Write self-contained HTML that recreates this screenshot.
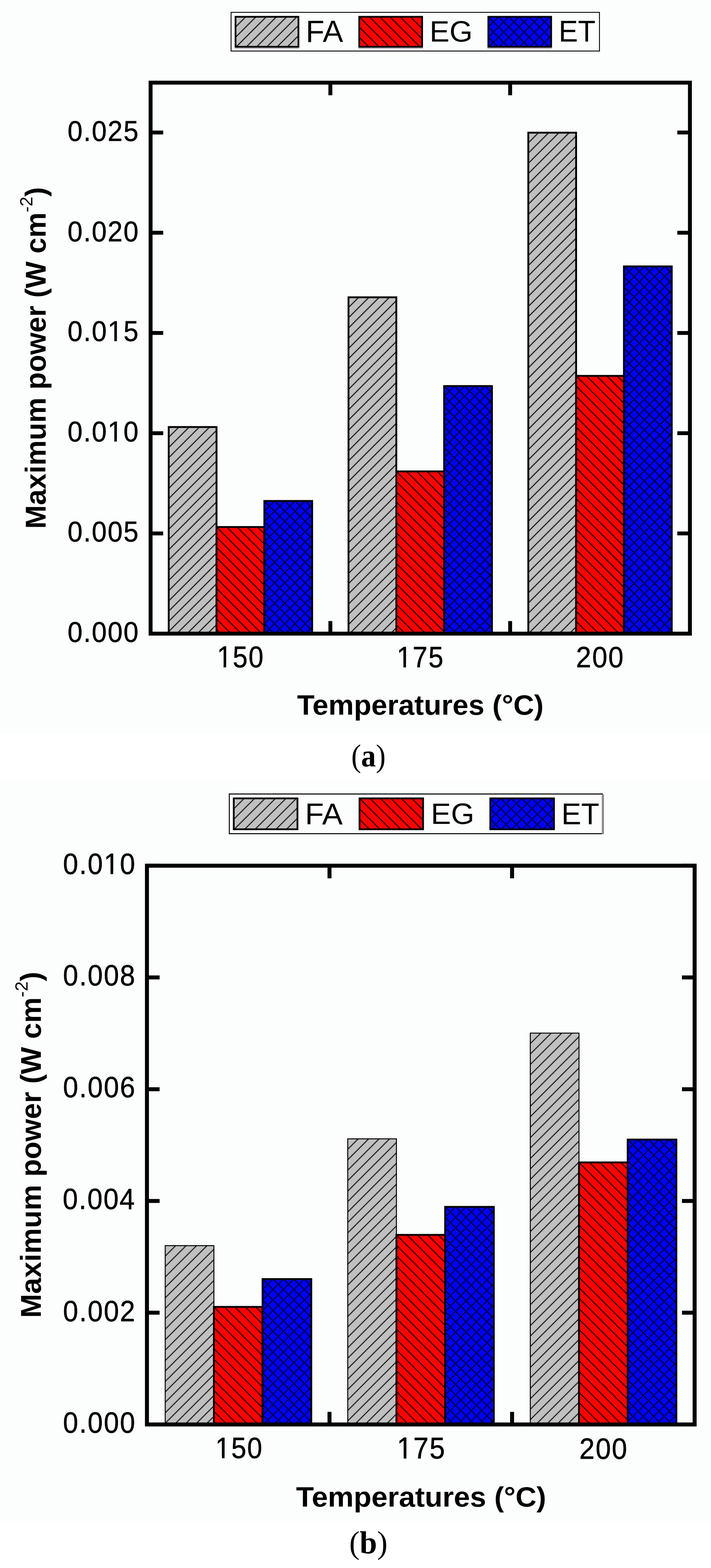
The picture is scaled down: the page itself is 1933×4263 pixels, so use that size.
<!DOCTYPE html><html><head><meta charset="utf-8"><title>Maximum power vs temperature</title><style>html,body{margin:0;padding:0;background:#fff;width:1933px;height:4263px;overflow:hidden}svg{display:block}</style></head><body><svg width="1933" height="4263" viewBox="0 0 1933 4263"><defs><pattern id="paL0" patternUnits="userSpaceOnUse" width="19.658" height="19.658" patternTransform="translate(640.35,45.65) rotate(-45)"><rect width="19.658" height="19.658" fill="#c0c0c0"/><path d="M-2.121,0.000L0.000,-2.121L2.121,0.000L0.000,2.121ZM-2.121,19.658L0.000,17.536L2.121,19.658L0.000,21.779ZM1.810,0.000L3.932,-2.121L6.053,0.000L3.932,2.121ZM1.810,19.658L3.932,17.536L6.053,19.658L3.932,21.779ZM5.742,0.000L7.863,-2.121L9.984,0.000L7.863,2.121ZM5.742,19.658L7.863,17.536L9.984,19.658L7.863,21.779ZM9.673,0.000L11.795,-2.121L13.916,0.000L11.795,2.121ZM9.673,19.658L11.795,17.536L13.916,19.658L11.795,21.779ZM13.605,0.000L15.726,-2.121L17.847,0.000L15.726,2.121ZM13.605,19.658L15.726,17.536L17.847,19.658L15.726,21.779ZM17.536,0.000L19.658,-2.121L21.779,0.000L19.658,2.121ZM17.536,19.658L19.658,17.536L21.779,19.658L19.658,21.779Z" fill="#000"/></pattern><pattern id="paL1" patternUnits="userSpaceOnUse" width="19.658" height="19.658" patternTransform="translate(976.65,45.65) rotate(45)"><rect width="19.658" height="19.658" fill="#ff0000"/><path d="M-2.121,0.000L0.000,-2.121L2.121,0.000L0.000,2.121ZM-2.121,19.658L0.000,17.536L2.121,19.658L0.000,21.779ZM1.810,0.000L3.932,-2.121L6.053,0.000L3.932,2.121ZM1.810,19.658L3.932,17.536L6.053,19.658L3.932,21.779ZM5.742,0.000L7.863,-2.121L9.984,0.000L7.863,2.121ZM5.742,19.658L7.863,17.536L9.984,19.658L7.863,21.779ZM9.673,0.000L11.795,-2.121L13.916,0.000L11.795,2.121ZM9.673,19.658L11.795,17.536L13.916,19.658L11.795,21.779ZM13.605,0.000L15.726,-2.121L17.847,0.000L15.726,2.121ZM13.605,19.658L15.726,17.536L17.847,19.658L15.726,21.779ZM17.536,0.000L19.658,-2.121L21.779,0.000L19.658,2.121ZM17.536,19.658L19.658,17.536L21.779,19.658L19.658,21.779Z" fill="#000"/></pattern><pattern id="paL2" patternUnits="userSpaceOnUse" width="19.658" height="19.658" patternTransform="translate(1327.65,45.65) rotate(45)"><rect width="19.658" height="19.658" fill="#0000ff"/><path d="M-2.121,0.000L0.000,-2.121L2.121,0.000L0.000,2.121ZM-2.121,19.658L0.000,17.536L2.121,19.658L0.000,21.779ZM-2.121,0.000L0.000,-2.121L2.121,0.000L0.000,2.121ZM17.536,0.000L19.658,-2.121L21.779,0.000L19.658,2.121ZM1.810,0.000L3.932,-2.121L6.053,0.000L3.932,2.121ZM1.810,19.658L3.932,17.536L6.053,19.658L3.932,21.779ZM-2.121,3.932L0.000,1.810L2.121,3.932L0.000,6.053ZM17.536,3.932L19.658,1.810L21.779,3.932L19.658,6.053ZM5.742,0.000L7.863,-2.121L9.984,0.000L7.863,2.121ZM5.742,19.658L7.863,17.536L9.984,19.658L7.863,21.779ZM-2.121,7.863L0.000,5.742L2.121,7.863L0.000,9.984ZM17.536,7.863L19.658,5.742L21.779,7.863L19.658,9.984ZM9.673,0.000L11.795,-2.121L13.916,0.000L11.795,2.121ZM9.673,19.658L11.795,17.536L13.916,19.658L11.795,21.779ZM-2.121,11.795L0.000,9.673L2.121,11.795L0.000,13.916ZM17.536,11.795L19.658,9.673L21.779,11.795L19.658,13.916ZM13.605,0.000L15.726,-2.121L17.847,0.000L15.726,2.121ZM13.605,19.658L15.726,17.536L17.847,19.658L15.726,21.779ZM-2.121,15.726L0.000,13.605L2.121,15.726L0.000,17.847ZM17.536,15.726L19.658,13.605L21.779,15.726L19.658,17.847ZM17.536,0.000L19.658,-2.121L21.779,0.000L19.658,2.121ZM17.536,19.658L19.658,17.536L21.779,19.658L19.658,21.779ZM-2.121,19.658L0.000,17.536L2.121,19.658L0.000,21.779ZM17.536,19.658L19.658,17.536L21.779,19.658L19.658,21.779Z" fill="#000"/></pattern><pattern id="paB00" patternUnits="userSpaceOnUse" width="19.658" height="19.658" patternTransform="translate(458.70,1161.00) rotate(-45)"><rect width="19.658" height="19.658" fill="#c0c0c0"/><path d="M-2.121,0.000L0.000,-2.121L2.121,0.000L0.000,2.121ZM-2.121,19.658L0.000,17.536L2.121,19.658L0.000,21.779ZM1.810,0.000L3.932,-2.121L6.053,0.000L3.932,2.121ZM1.810,19.658L3.932,17.536L6.053,19.658L3.932,21.779ZM5.742,0.000L7.863,-2.121L9.984,0.000L7.863,2.121ZM5.742,19.658L7.863,17.536L9.984,19.658L7.863,21.779ZM9.673,0.000L11.795,-2.121L13.916,0.000L11.795,2.121ZM9.673,19.658L11.795,17.536L13.916,19.658L11.795,21.779ZM13.605,0.000L15.726,-2.121L17.847,0.000L15.726,2.121ZM13.605,19.658L15.726,17.536L17.847,19.658L15.726,21.779ZM17.536,0.000L19.658,-2.121L21.779,0.000L19.658,2.121ZM17.536,19.658L19.658,17.536L21.779,19.658L19.658,21.779Z" fill="#000"/></pattern><pattern id="paB01" patternUnits="userSpaceOnUse" width="19.658" height="19.658" patternTransform="translate(588.70,1432.80) rotate(45)"><rect width="19.658" height="19.658" fill="#ff0000"/><path d="M-2.121,0.000L0.000,-2.121L2.121,0.000L0.000,2.121ZM-2.121,19.658L0.000,17.536L2.121,19.658L0.000,21.779ZM1.810,0.000L3.932,-2.121L6.053,0.000L3.932,2.121ZM1.810,19.658L3.932,17.536L6.053,19.658L3.932,21.779ZM5.742,0.000L7.863,-2.121L9.984,0.000L7.863,2.121ZM5.742,19.658L7.863,17.536L9.984,19.658L7.863,21.779ZM9.673,0.000L11.795,-2.121L13.916,0.000L11.795,2.121ZM9.673,19.658L11.795,17.536L13.916,19.658L11.795,21.779ZM13.605,0.000L15.726,-2.121L17.847,0.000L15.726,2.121ZM13.605,19.658L15.726,17.536L17.847,19.658L15.726,21.779ZM17.536,0.000L19.658,-2.121L21.779,0.000L19.658,2.121ZM17.536,19.658L19.658,17.536L21.779,19.658L19.658,21.779Z" fill="#000"/></pattern><pattern id="paB02" patternUnits="userSpaceOnUse" width="19.658" height="19.658" patternTransform="translate(718.70,1362.00) rotate(45)"><rect width="19.658" height="19.658" fill="#0000ff"/><path d="M-2.121,0.000L0.000,-2.121L2.121,0.000L0.000,2.121ZM-2.121,19.658L0.000,17.536L2.121,19.658L0.000,21.779ZM-2.121,0.000L0.000,-2.121L2.121,0.000L0.000,2.121ZM17.536,0.000L19.658,-2.121L21.779,0.000L19.658,2.121ZM1.810,0.000L3.932,-2.121L6.053,0.000L3.932,2.121ZM1.810,19.658L3.932,17.536L6.053,19.658L3.932,21.779ZM-2.121,3.932L0.000,1.810L2.121,3.932L0.000,6.053ZM17.536,3.932L19.658,1.810L21.779,3.932L19.658,6.053ZM5.742,0.000L7.863,-2.121L9.984,0.000L7.863,2.121ZM5.742,19.658L7.863,17.536L9.984,19.658L7.863,21.779ZM-2.121,7.863L0.000,5.742L2.121,7.863L0.000,9.984ZM17.536,7.863L19.658,5.742L21.779,7.863L19.658,9.984ZM9.673,0.000L11.795,-2.121L13.916,0.000L11.795,2.121ZM9.673,19.658L11.795,17.536L13.916,19.658L11.795,21.779ZM-2.121,11.795L0.000,9.673L2.121,11.795L0.000,13.916ZM17.536,11.795L19.658,9.673L21.779,11.795L19.658,13.916ZM13.605,0.000L15.726,-2.121L17.847,0.000L15.726,2.121ZM13.605,19.658L15.726,17.536L17.847,19.658L15.726,21.779ZM-2.121,15.726L0.000,13.605L2.121,15.726L0.000,17.847ZM17.536,15.726L19.658,13.605L21.779,15.726L19.658,17.847ZM17.536,0.000L19.658,-2.121L21.779,0.000L19.658,2.121ZM17.536,19.658L19.658,17.536L21.779,19.658L19.658,21.779ZM-2.121,19.658L0.000,17.536L2.121,19.658L0.000,21.779ZM17.536,19.658L19.658,17.536L21.779,19.658L19.658,21.779Z" fill="#000"/></pattern><pattern id="paB10" patternUnits="userSpaceOnUse" width="19.658" height="19.658" patternTransform="translate(947.50,808.30) rotate(-45)"><rect width="19.658" height="19.658" fill="#c0c0c0"/><path d="M-2.121,0.000L0.000,-2.121L2.121,0.000L0.000,2.121ZM-2.121,19.658L0.000,17.536L2.121,19.658L0.000,21.779ZM1.810,0.000L3.932,-2.121L6.053,0.000L3.932,2.121ZM1.810,19.658L3.932,17.536L6.053,19.658L3.932,21.779ZM5.742,0.000L7.863,-2.121L9.984,0.000L7.863,2.121ZM5.742,19.658L7.863,17.536L9.984,19.658L7.863,21.779ZM9.673,0.000L11.795,-2.121L13.916,0.000L11.795,2.121ZM9.673,19.658L11.795,17.536L13.916,19.658L11.795,21.779ZM13.605,0.000L15.726,-2.121L17.847,0.000L15.726,2.121ZM13.605,19.658L15.726,17.536L17.847,19.658L15.726,21.779ZM17.536,0.000L19.658,-2.121L21.779,0.000L19.658,2.121ZM17.536,19.658L19.658,17.536L21.779,19.658L19.658,21.779Z" fill="#000"/></pattern><pattern id="paB11" patternUnits="userSpaceOnUse" width="19.658" height="19.658" patternTransform="translate(1077.50,1281.60) rotate(45)"><rect width="19.658" height="19.658" fill="#ff0000"/><path d="M-2.121,0.000L0.000,-2.121L2.121,0.000L0.000,2.121ZM-2.121,19.658L0.000,17.536L2.121,19.658L0.000,21.779ZM1.810,0.000L3.932,-2.121L6.053,0.000L3.932,2.121ZM1.810,19.658L3.932,17.536L6.053,19.658L3.932,21.779ZM5.742,0.000L7.863,-2.121L9.984,0.000L7.863,2.121ZM5.742,19.658L7.863,17.536L9.984,19.658L7.863,21.779ZM9.673,0.000L11.795,-2.121L13.916,0.000L11.795,2.121ZM9.673,19.658L11.795,17.536L13.916,19.658L11.795,21.779ZM13.605,0.000L15.726,-2.121L17.847,0.000L15.726,2.121ZM13.605,19.658L15.726,17.536L17.847,19.658L15.726,21.779ZM17.536,0.000L19.658,-2.121L21.779,0.000L19.658,2.121ZM17.536,19.658L19.658,17.536L21.779,19.658L19.658,21.779Z" fill="#000"/></pattern><pattern id="paB12" patternUnits="userSpaceOnUse" width="19.658" height="19.658" patternTransform="translate(1207.50,1049.60) rotate(45)"><rect width="19.658" height="19.658" fill="#0000ff"/><path d="M-2.121,0.000L0.000,-2.121L2.121,0.000L0.000,2.121ZM-2.121,19.658L0.000,17.536L2.121,19.658L0.000,21.779ZM-2.121,0.000L0.000,-2.121L2.121,0.000L0.000,2.121ZM17.536,0.000L19.658,-2.121L21.779,0.000L19.658,2.121ZM1.810,0.000L3.932,-2.121L6.053,0.000L3.932,2.121ZM1.810,19.658L3.932,17.536L6.053,19.658L3.932,21.779ZM-2.121,3.932L0.000,1.810L2.121,3.932L0.000,6.053ZM17.536,3.932L19.658,1.810L21.779,3.932L19.658,6.053ZM5.742,0.000L7.863,-2.121L9.984,0.000L7.863,2.121ZM5.742,19.658L7.863,17.536L9.984,19.658L7.863,21.779ZM-2.121,7.863L0.000,5.742L2.121,7.863L0.000,9.984ZM17.536,7.863L19.658,5.742L21.779,7.863L19.658,9.984ZM9.673,0.000L11.795,-2.121L13.916,0.000L11.795,2.121ZM9.673,19.658L11.795,17.536L13.916,19.658L11.795,21.779ZM-2.121,11.795L0.000,9.673L2.121,11.795L0.000,13.916ZM17.536,11.795L19.658,9.673L21.779,11.795L19.658,13.916ZM13.605,0.000L15.726,-2.121L17.847,0.000L15.726,2.121ZM13.605,19.658L15.726,17.536L17.847,19.658L15.726,21.779ZM-2.121,15.726L0.000,13.605L2.121,15.726L0.000,17.847ZM17.536,15.726L19.658,13.605L21.779,15.726L19.658,17.847ZM17.536,0.000L19.658,-2.121L21.779,0.000L19.658,2.121ZM17.536,19.658L19.658,17.536L21.779,19.658L19.658,21.779ZM-2.121,19.658L0.000,17.536L2.121,19.658L0.000,21.779ZM17.536,19.658L19.658,17.536L21.779,19.658L19.658,21.779Z" fill="#000"/></pattern><pattern id="paB20" patternUnits="userSpaceOnUse" width="19.658" height="19.658" patternTransform="translate(1436.30,360.70) rotate(-45)"><rect width="19.658" height="19.658" fill="#c0c0c0"/><path d="M-2.121,0.000L0.000,-2.121L2.121,0.000L0.000,2.121ZM-2.121,19.658L0.000,17.536L2.121,19.658L0.000,21.779ZM1.810,0.000L3.932,-2.121L6.053,0.000L3.932,2.121ZM1.810,19.658L3.932,17.536L6.053,19.658L3.932,21.779ZM5.742,0.000L7.863,-2.121L9.984,0.000L7.863,2.121ZM5.742,19.658L7.863,17.536L9.984,19.658L7.863,21.779ZM9.673,0.000L11.795,-2.121L13.916,0.000L11.795,2.121ZM9.673,19.658L11.795,17.536L13.916,19.658L11.795,21.779ZM13.605,0.000L15.726,-2.121L17.847,0.000L15.726,2.121ZM13.605,19.658L15.726,17.536L17.847,19.658L15.726,21.779ZM17.536,0.000L19.658,-2.121L21.779,0.000L19.658,2.121ZM17.536,19.658L19.658,17.536L21.779,19.658L19.658,21.779Z" fill="#000"/></pattern><pattern id="paB21" patternUnits="userSpaceOnUse" width="19.658" height="19.658" patternTransform="translate(1566.30,1021.90) rotate(45)"><rect width="19.658" height="19.658" fill="#ff0000"/><path d="M-2.121,0.000L0.000,-2.121L2.121,0.000L0.000,2.121ZM-2.121,19.658L0.000,17.536L2.121,19.658L0.000,21.779ZM1.810,0.000L3.932,-2.121L6.053,0.000L3.932,2.121ZM1.810,19.658L3.932,17.536L6.053,19.658L3.932,21.779ZM5.742,0.000L7.863,-2.121L9.984,0.000L7.863,2.121ZM5.742,19.658L7.863,17.536L9.984,19.658L7.863,21.779ZM9.673,0.000L11.795,-2.121L13.916,0.000L11.795,2.121ZM9.673,19.658L11.795,17.536L13.916,19.658L11.795,21.779ZM13.605,0.000L15.726,-2.121L17.847,0.000L15.726,2.121ZM13.605,19.658L15.726,17.536L17.847,19.658L15.726,21.779ZM17.536,0.000L19.658,-2.121L21.779,0.000L19.658,2.121ZM17.536,19.658L19.658,17.536L21.779,19.658L19.658,21.779Z" fill="#000"/></pattern><pattern id="paB22" patternUnits="userSpaceOnUse" width="19.658" height="19.658" patternTransform="translate(1696.30,724.30) rotate(45)"><rect width="19.658" height="19.658" fill="#0000ff"/><path d="M-2.121,0.000L0.000,-2.121L2.121,0.000L0.000,2.121ZM-2.121,19.658L0.000,17.536L2.121,19.658L0.000,21.779ZM-2.121,0.000L0.000,-2.121L2.121,0.000L0.000,2.121ZM17.536,0.000L19.658,-2.121L21.779,0.000L19.658,2.121ZM1.810,0.000L3.932,-2.121L6.053,0.000L3.932,2.121ZM1.810,19.658L3.932,17.536L6.053,19.658L3.932,21.779ZM-2.121,3.932L0.000,1.810L2.121,3.932L0.000,6.053ZM17.536,3.932L19.658,1.810L21.779,3.932L19.658,6.053ZM5.742,0.000L7.863,-2.121L9.984,0.000L7.863,2.121ZM5.742,19.658L7.863,17.536L9.984,19.658L7.863,21.779ZM-2.121,7.863L0.000,5.742L2.121,7.863L0.000,9.984ZM17.536,7.863L19.658,5.742L21.779,7.863L19.658,9.984ZM9.673,0.000L11.795,-2.121L13.916,0.000L11.795,2.121ZM9.673,19.658L11.795,17.536L13.916,19.658L11.795,21.779ZM-2.121,11.795L0.000,9.673L2.121,11.795L0.000,13.916ZM17.536,11.795L19.658,9.673L21.779,11.795L19.658,13.916ZM13.605,0.000L15.726,-2.121L17.847,0.000L15.726,2.121ZM13.605,19.658L15.726,17.536L17.847,19.658L15.726,21.779ZM-2.121,15.726L0.000,13.605L2.121,15.726L0.000,17.847ZM17.536,15.726L19.658,13.605L21.779,15.726L19.658,17.847ZM17.536,0.000L19.658,-2.121L21.779,0.000L19.658,2.121ZM17.536,19.658L19.658,17.536L21.779,19.658L19.658,21.779ZM-2.121,19.658L0.000,17.536L2.121,19.658L0.000,21.779ZM17.536,19.658L19.658,17.536L21.779,19.658L19.658,21.779Z" fill="#000"/></pattern><pattern id="pbL0" patternUnits="userSpaceOnUse" width="20.082" height="20.082" patternTransform="translate(635.50,2170.60) rotate(-45)"><rect width="20.082" height="20.082" fill="#c0c0c0"/><path d="M-2.121,0.000L0.000,-2.121L2.121,0.000L0.000,2.121ZM-2.121,20.082L0.000,17.961L2.121,20.082L0.000,22.203ZM1.895,0.000L4.016,-2.121L6.138,0.000L4.016,2.121ZM1.895,20.082L4.016,17.961L6.138,20.082L4.016,22.203ZM5.911,0.000L8.033,-2.121L10.154,0.000L8.033,2.121ZM5.911,20.082L8.033,17.961L10.154,20.082L8.033,22.203ZM9.928,0.000L12.049,-2.121L14.170,0.000L12.049,2.121ZM9.928,20.082L12.049,17.961L14.170,20.082L12.049,22.203ZM13.944,0.000L16.065,-2.121L18.187,0.000L16.065,2.121ZM13.944,20.082L16.065,17.961L18.187,20.082L16.065,22.203ZM17.961,0.000L20.082,-2.121L22.203,0.000L20.082,2.121ZM17.961,20.082L20.082,17.961L22.203,20.082L20.082,22.203Z" fill="#000"/></pattern><pattern id="pbL1" patternUnits="userSpaceOnUse" width="20.082" height="20.082" patternTransform="translate(977.40,2170.60) rotate(45)"><rect width="20.082" height="20.082" fill="#ff0000"/><path d="M-2.121,0.000L0.000,-2.121L2.121,0.000L0.000,2.121ZM-2.121,20.082L0.000,17.961L2.121,20.082L0.000,22.203ZM1.895,0.000L4.016,-2.121L6.138,0.000L4.016,2.121ZM1.895,20.082L4.016,17.961L6.138,20.082L4.016,22.203ZM5.911,0.000L8.033,-2.121L10.154,0.000L8.033,2.121ZM5.911,20.082L8.033,17.961L10.154,20.082L8.033,22.203ZM9.928,0.000L12.049,-2.121L14.170,0.000L12.049,2.121ZM9.928,20.082L12.049,17.961L14.170,20.082L12.049,22.203ZM13.944,0.000L16.065,-2.121L18.187,0.000L16.065,2.121ZM13.944,20.082L16.065,17.961L18.187,20.082L16.065,22.203ZM17.961,0.000L20.082,-2.121L22.203,0.000L20.082,2.121ZM17.961,20.082L20.082,17.961L22.203,20.082L20.082,22.203Z" fill="#000"/></pattern><pattern id="pbL2" patternUnits="userSpaceOnUse" width="20.082" height="20.082" patternTransform="translate(1333.00,2170.60) rotate(45)"><rect width="20.082" height="20.082" fill="#0000ff"/><path d="M-2.121,0.000L0.000,-2.121L2.121,0.000L0.000,2.121ZM-2.121,20.082L0.000,17.961L2.121,20.082L0.000,22.203ZM-2.121,0.000L0.000,-2.121L2.121,0.000L0.000,2.121ZM17.961,0.000L20.082,-2.121L22.203,0.000L20.082,2.121ZM1.895,0.000L4.016,-2.121L6.138,0.000L4.016,2.121ZM1.895,20.082L4.016,17.961L6.138,20.082L4.016,22.203ZM-2.121,4.016L0.000,1.895L2.121,4.016L0.000,6.138ZM17.961,4.016L20.082,1.895L22.203,4.016L20.082,6.138ZM5.911,0.000L8.033,-2.121L10.154,0.000L8.033,2.121ZM5.911,20.082L8.033,17.961L10.154,20.082L8.033,22.203ZM-2.121,8.033L0.000,5.911L2.121,8.033L0.000,10.154ZM17.961,8.033L20.082,5.911L22.203,8.033L20.082,10.154ZM9.928,0.000L12.049,-2.121L14.170,0.000L12.049,2.121ZM9.928,20.082L12.049,17.961L14.170,20.082L12.049,22.203ZM-2.121,12.049L0.000,9.928L2.121,12.049L0.000,14.170ZM17.961,12.049L20.082,9.928L22.203,12.049L20.082,14.170ZM13.944,0.000L16.065,-2.121L18.187,0.000L16.065,2.121ZM13.944,20.082L16.065,17.961L18.187,20.082L16.065,22.203ZM-2.121,16.065L0.000,13.944L2.121,16.065L0.000,18.187ZM17.961,16.065L20.082,13.944L22.203,16.065L20.082,18.187ZM17.961,0.000L20.082,-2.121L22.203,0.000L20.082,2.121ZM17.961,20.082L20.082,17.961L22.203,20.082L20.082,22.203ZM-2.121,20.082L0.000,17.961L2.121,20.082L0.000,22.203ZM17.961,20.082L20.082,17.961L22.203,20.082L20.082,22.203Z" fill="#000"/></pattern><pattern id="pbB00" patternUnits="userSpaceOnUse" width="20.082" height="20.082" patternTransform="translate(449.16,3386.60) rotate(-45)"><rect width="20.082" height="20.082" fill="#c0c0c0"/><path d="M-2.121,0.000L0.000,-2.121L2.121,0.000L0.000,2.121ZM-2.121,20.082L0.000,17.961L2.121,20.082L0.000,22.203ZM1.895,0.000L4.016,-2.121L6.138,0.000L4.016,2.121ZM1.895,20.082L4.016,17.961L6.138,20.082L4.016,22.203ZM5.911,0.000L8.033,-2.121L10.154,0.000L8.033,2.121ZM5.911,20.082L8.033,17.961L10.154,20.082L8.033,22.203ZM9.928,0.000L12.049,-2.121L14.170,0.000L12.049,2.121ZM9.928,20.082L12.049,17.961L14.170,20.082L12.049,22.203ZM13.944,0.000L16.065,-2.121L18.187,0.000L16.065,2.121ZM13.944,20.082L16.065,17.961L18.187,20.082L16.065,22.203ZM17.961,0.000L20.082,-2.121L22.203,0.000L20.082,2.121ZM17.961,20.082L20.082,17.961L22.203,20.082L20.082,22.203Z" fill="#000"/></pattern><pattern id="pbB01" patternUnits="userSpaceOnUse" width="20.082" height="20.082" patternTransform="translate(581.52,3553.10) rotate(45)"><rect width="20.082" height="20.082" fill="#ff0000"/><path d="M-2.121,0.000L0.000,-2.121L2.121,0.000L0.000,2.121ZM-2.121,20.082L0.000,17.961L2.121,20.082L0.000,22.203ZM1.895,0.000L4.016,-2.121L6.138,0.000L4.016,2.121ZM1.895,20.082L4.016,17.961L6.138,20.082L4.016,22.203ZM5.911,0.000L8.033,-2.121L10.154,0.000L8.033,2.121ZM5.911,20.082L8.033,17.961L10.154,20.082L8.033,22.203ZM9.928,0.000L12.049,-2.121L14.170,0.000L12.049,2.121ZM9.928,20.082L12.049,17.961L14.170,20.082L12.049,22.203ZM13.944,0.000L16.065,-2.121L18.187,0.000L16.065,2.121ZM13.944,20.082L16.065,17.961L18.187,20.082L16.065,22.203ZM17.961,0.000L20.082,-2.121L22.203,0.000L20.082,2.121ZM17.961,20.082L20.082,17.961L22.203,20.082L20.082,22.203Z" fill="#000"/></pattern><pattern id="pbB02" patternUnits="userSpaceOnUse" width="20.082" height="20.082" patternTransform="translate(713.88,3477.50) rotate(45)"><rect width="20.082" height="20.082" fill="#0000ff"/><path d="M-2.121,0.000L0.000,-2.121L2.121,0.000L0.000,2.121ZM-2.121,20.082L0.000,17.961L2.121,20.082L0.000,22.203ZM-2.121,0.000L0.000,-2.121L2.121,0.000L0.000,2.121ZM17.961,0.000L20.082,-2.121L22.203,0.000L20.082,2.121ZM1.895,0.000L4.016,-2.121L6.138,0.000L4.016,2.121ZM1.895,20.082L4.016,17.961L6.138,20.082L4.016,22.203ZM-2.121,4.016L0.000,1.895L2.121,4.016L0.000,6.138ZM17.961,4.016L20.082,1.895L22.203,4.016L20.082,6.138ZM5.911,0.000L8.033,-2.121L10.154,0.000L8.033,2.121ZM5.911,20.082L8.033,17.961L10.154,20.082L8.033,22.203ZM-2.121,8.033L0.000,5.911L2.121,8.033L0.000,10.154ZM17.961,8.033L20.082,5.911L22.203,8.033L20.082,10.154ZM9.928,0.000L12.049,-2.121L14.170,0.000L12.049,2.121ZM9.928,20.082L12.049,17.961L14.170,20.082L12.049,22.203ZM-2.121,12.049L0.000,9.928L2.121,12.049L0.000,14.170ZM17.961,12.049L20.082,9.928L22.203,12.049L20.082,14.170ZM13.944,0.000L16.065,-2.121L18.187,0.000L16.065,2.121ZM13.944,20.082L16.065,17.961L18.187,20.082L16.065,22.203ZM-2.121,16.065L0.000,13.944L2.121,16.065L0.000,18.187ZM17.961,16.065L20.082,13.944L22.203,16.065L20.082,18.187ZM17.961,0.000L20.082,-2.121L22.203,0.000L20.082,2.121ZM17.961,20.082L20.082,17.961L22.203,20.082L20.082,22.203ZM-2.121,20.082L0.000,17.961L2.121,20.082L0.000,22.203ZM17.961,20.082L20.082,17.961L22.203,20.082L20.082,22.203Z" fill="#000"/></pattern><pattern id="pbB10" patternUnits="userSpaceOnUse" width="20.082" height="20.082" patternTransform="translate(945.46,3096.20) rotate(-45)"><rect width="20.082" height="20.082" fill="#c0c0c0"/><path d="M-2.121,0.000L0.000,-2.121L2.121,0.000L0.000,2.121ZM-2.121,20.082L0.000,17.961L2.121,20.082L0.000,22.203ZM1.895,0.000L4.016,-2.121L6.138,0.000L4.016,2.121ZM1.895,20.082L4.016,17.961L6.138,20.082L4.016,22.203ZM5.911,0.000L8.033,-2.121L10.154,0.000L8.033,2.121ZM5.911,20.082L8.033,17.961L10.154,20.082L8.033,22.203ZM9.928,0.000L12.049,-2.121L14.170,0.000L12.049,2.121ZM9.928,20.082L12.049,17.961L14.170,20.082L12.049,22.203ZM13.944,0.000L16.065,-2.121L18.187,0.000L16.065,2.121ZM13.944,20.082L16.065,17.961L18.187,20.082L16.065,22.203ZM17.961,0.000L20.082,-2.121L22.203,0.000L20.082,2.121ZM17.961,20.082L20.082,17.961L22.203,20.082L20.082,22.203Z" fill="#000"/></pattern><pattern id="pbB11" patternUnits="userSpaceOnUse" width="20.082" height="20.082" patternTransform="translate(1077.82,3357.30) rotate(45)"><rect width="20.082" height="20.082" fill="#ff0000"/><path d="M-2.121,0.000L0.000,-2.121L2.121,0.000L0.000,2.121ZM-2.121,20.082L0.000,17.961L2.121,20.082L0.000,22.203ZM1.895,0.000L4.016,-2.121L6.138,0.000L4.016,2.121ZM1.895,20.082L4.016,17.961L6.138,20.082L4.016,22.203ZM5.911,0.000L8.033,-2.121L10.154,0.000L8.033,2.121ZM5.911,20.082L8.033,17.961L10.154,20.082L8.033,22.203ZM9.928,0.000L12.049,-2.121L14.170,0.000L12.049,2.121ZM9.928,20.082L12.049,17.961L14.170,20.082L12.049,22.203ZM13.944,0.000L16.065,-2.121L18.187,0.000L16.065,2.121ZM13.944,20.082L16.065,17.961L18.187,20.082L16.065,22.203ZM17.961,0.000L20.082,-2.121L22.203,0.000L20.082,2.121ZM17.961,20.082L20.082,17.961L22.203,20.082L20.082,22.203Z" fill="#000"/></pattern><pattern id="pbB12" patternUnits="userSpaceOnUse" width="20.082" height="20.082" patternTransform="translate(1210.18,3281.20) rotate(45)"><rect width="20.082" height="20.082" fill="#0000ff"/><path d="M-2.121,0.000L0.000,-2.121L2.121,0.000L0.000,2.121ZM-2.121,20.082L0.000,17.961L2.121,20.082L0.000,22.203ZM-2.121,0.000L0.000,-2.121L2.121,0.000L0.000,2.121ZM17.961,0.000L20.082,-2.121L22.203,0.000L20.082,2.121ZM1.895,0.000L4.016,-2.121L6.138,0.000L4.016,2.121ZM1.895,20.082L4.016,17.961L6.138,20.082L4.016,22.203ZM-2.121,4.016L0.000,1.895L2.121,4.016L0.000,6.138ZM17.961,4.016L20.082,1.895L22.203,4.016L20.082,6.138ZM5.911,0.000L8.033,-2.121L10.154,0.000L8.033,2.121ZM5.911,20.082L8.033,17.961L10.154,20.082L8.033,22.203ZM-2.121,8.033L0.000,5.911L2.121,8.033L0.000,10.154ZM17.961,8.033L20.082,5.911L22.203,8.033L20.082,10.154ZM9.928,0.000L12.049,-2.121L14.170,0.000L12.049,2.121ZM9.928,20.082L12.049,17.961L14.170,20.082L12.049,22.203ZM-2.121,12.049L0.000,9.928L2.121,12.049L0.000,14.170ZM17.961,12.049L20.082,9.928L22.203,12.049L20.082,14.170ZM13.944,0.000L16.065,-2.121L18.187,0.000L16.065,2.121ZM13.944,20.082L16.065,17.961L18.187,20.082L16.065,22.203ZM-2.121,16.065L0.000,13.944L2.121,16.065L0.000,18.187ZM17.961,16.065L20.082,13.944L22.203,16.065L20.082,18.187ZM17.961,0.000L20.082,-2.121L22.203,0.000L20.082,2.121ZM17.961,20.082L20.082,17.961L22.203,20.082L20.082,22.203ZM-2.121,20.082L0.000,17.961L2.121,20.082L0.000,22.203ZM17.961,20.082L20.082,17.961L22.203,20.082L20.082,22.203Z" fill="#000"/></pattern><pattern id="pbB20" patternUnits="userSpaceOnUse" width="20.082" height="20.082" patternTransform="translate(1441.76,2808.80) rotate(-45)"><rect width="20.082" height="20.082" fill="#c0c0c0"/><path d="M-2.121,0.000L0.000,-2.121L2.121,0.000L0.000,2.121ZM-2.121,20.082L0.000,17.961L2.121,20.082L0.000,22.203ZM1.895,0.000L4.016,-2.121L6.138,0.000L4.016,2.121ZM1.895,20.082L4.016,17.961L6.138,20.082L4.016,22.203ZM5.911,0.000L8.033,-2.121L10.154,0.000L8.033,2.121ZM5.911,20.082L8.033,17.961L10.154,20.082L8.033,22.203ZM9.928,0.000L12.049,-2.121L14.170,0.000L12.049,2.121ZM9.928,20.082L12.049,17.961L14.170,20.082L12.049,22.203ZM13.944,0.000L16.065,-2.121L18.187,0.000L16.065,2.121ZM13.944,20.082L16.065,17.961L18.187,20.082L16.065,22.203ZM17.961,0.000L20.082,-2.121L22.203,0.000L20.082,2.121ZM17.961,20.082L20.082,17.961L22.203,20.082L20.082,22.203Z" fill="#000"/></pattern><pattern id="pbB21" patternUnits="userSpaceOnUse" width="20.082" height="20.082" patternTransform="translate(1574.12,3160.30) rotate(45)"><rect width="20.082" height="20.082" fill="#ff0000"/><path d="M-2.121,0.000L0.000,-2.121L2.121,0.000L0.000,2.121ZM-2.121,20.082L0.000,17.961L2.121,20.082L0.000,22.203ZM1.895,0.000L4.016,-2.121L6.138,0.000L4.016,2.121ZM1.895,20.082L4.016,17.961L6.138,20.082L4.016,22.203ZM5.911,0.000L8.033,-2.121L10.154,0.000L8.033,2.121ZM5.911,20.082L8.033,17.961L10.154,20.082L8.033,22.203ZM9.928,0.000L12.049,-2.121L14.170,0.000L12.049,2.121ZM9.928,20.082L12.049,17.961L14.170,20.082L12.049,22.203ZM13.944,0.000L16.065,-2.121L18.187,0.000L16.065,2.121ZM13.944,20.082L16.065,17.961L18.187,20.082L16.065,22.203ZM17.961,0.000L20.082,-2.121L22.203,0.000L20.082,2.121ZM17.961,20.082L20.082,17.961L22.203,20.082L20.082,22.203Z" fill="#000"/></pattern><pattern id="pbB22" patternUnits="userSpaceOnUse" width="20.082" height="20.082" patternTransform="translate(1706.48,3098.20) rotate(45)"><rect width="20.082" height="20.082" fill="#0000ff"/><path d="M-2.121,0.000L0.000,-2.121L2.121,0.000L0.000,2.121ZM-2.121,20.082L0.000,17.961L2.121,20.082L0.000,22.203ZM-2.121,0.000L0.000,-2.121L2.121,0.000L0.000,2.121ZM17.961,0.000L20.082,-2.121L22.203,0.000L20.082,2.121ZM1.895,0.000L4.016,-2.121L6.138,0.000L4.016,2.121ZM1.895,20.082L4.016,17.961L6.138,20.082L4.016,22.203ZM-2.121,4.016L0.000,1.895L2.121,4.016L0.000,6.138ZM17.961,4.016L20.082,1.895L22.203,4.016L20.082,6.138ZM5.911,0.000L8.033,-2.121L10.154,0.000L8.033,2.121ZM5.911,20.082L8.033,17.961L10.154,20.082L8.033,22.203ZM-2.121,8.033L0.000,5.911L2.121,8.033L0.000,10.154ZM17.961,8.033L20.082,5.911L22.203,8.033L20.082,10.154ZM9.928,0.000L12.049,-2.121L14.170,0.000L12.049,2.121ZM9.928,20.082L12.049,17.961L14.170,20.082L12.049,22.203ZM-2.121,12.049L0.000,9.928L2.121,12.049L0.000,14.170ZM17.961,12.049L20.082,9.928L22.203,12.049L20.082,14.170ZM13.944,0.000L16.065,-2.121L18.187,0.000L16.065,2.121ZM13.944,20.082L16.065,17.961L18.187,20.082L16.065,22.203ZM-2.121,16.065L0.000,13.944L2.121,16.065L0.000,18.187ZM17.961,16.065L20.082,13.944L22.203,16.065L20.082,18.187ZM17.961,0.000L20.082,-2.121L22.203,0.000L20.082,2.121ZM17.961,20.082L20.082,17.961L22.203,20.082L20.082,22.203ZM-2.121,20.082L0.000,17.961L2.121,20.082L0.000,22.203ZM17.961,20.082L20.082,17.961L22.203,20.082L20.082,22.203Z" fill="#000"/></pattern></defs><rect width="1933" height="4263" fill="#fff"/><rect width="1933" height="1995" fill="#fcfdfd"/><rect y="2125" width="1933" height="2011.5" fill="#fcfdfd"/><rect x="628.20" y="33.60" width="1001.60" height="105.20" fill="none" stroke="#000" stroke-width="2.4"/>
<rect x="638.00" y="129.50" width="174.70" height="2.9" fill="#b3acb9"/>
<rect x="640.35" y="45.65" width="171.00" height="81.50" fill="url(#paL0)" stroke="#000" stroke-width="4.7"/>
<rect x="974.30" y="129.50" width="174.70" height="2.9" fill="#b3acb9"/>
<rect x="976.65" y="45.65" width="171.00" height="81.50" fill="url(#paL1)" stroke="#000" stroke-width="4.7"/>
<rect x="1325.30" y="129.50" width="174.50" height="2.9" fill="#b3acb9"/>
<rect x="1327.65" y="45.65" width="170.80" height="81.50" fill="url(#paL2)" stroke="#000" stroke-width="4.7"/>
<g transform="translate(831.32,113.60) scale(1.0253,1.0196)"><text font-family="Liberation Sans, Arial, sans-serif" font-size="81.0" font-weight="normal">FA</text></g>
<g transform="translate(1168.01,112.62) scale(0.9990,0.9759)"><text font-family="Liberation Sans, Arial, sans-serif" font-size="81.0" font-weight="normal">EG</text></g>
<g transform="translate(1519.04,113.20) scale(0.9663,1.0143)"><text font-family="Liberation Sans, Arial, sans-serif" font-size="81.0" font-weight="normal">ET</text></g>
<rect x="458.70" y="1161.00" width="130.00" height="561.70" fill="url(#paB00)" stroke="#000" stroke-width="5"/>
<rect x="588.70" y="1432.80" width="130.00" height="289.90" fill="url(#paB01)" stroke="#000" stroke-width="5"/>
<rect x="718.70" y="1362.00" width="130.00" height="360.70" fill="url(#paB02)" stroke="#000" stroke-width="5"/>
<rect x="947.50" y="808.30" width="130.00" height="914.40" fill="url(#paB10)" stroke="#000" stroke-width="5"/>
<rect x="1077.50" y="1281.60" width="130.00" height="441.10" fill="url(#paB11)" stroke="#000" stroke-width="5"/>
<rect x="1207.50" y="1049.60" width="130.00" height="673.10" fill="url(#paB12)" stroke="#000" stroke-width="5"/>
<rect x="1436.30" y="360.70" width="130.00" height="1362.00" fill="url(#paB20)" stroke="#000" stroke-width="5"/>
<rect x="1566.30" y="1021.90" width="130.00" height="700.80" fill="url(#paB21)" stroke="#000" stroke-width="5"/>
<rect x="1696.30" y="724.30" width="130.00" height="998.40" fill="url(#paB22)" stroke="#000" stroke-width="5"/>
<rect x="409.40" y="224.70" width="1466.30" height="1498.00" fill="none" stroke="#000" stroke-width="10.6"/>
<path d="M409.40,1450.22H443.70M1875.70,1450.22H1841.40M409.40,1177.74H443.70M1875.70,1177.74H1841.40M409.40,905.26H443.70M1875.70,905.26H1841.40M409.40,632.78H443.70M1875.70,632.78H1841.40M409.40,360.30H443.70M1875.70,360.30H1841.40M898.17,224.70V259.00M898.17,1722.70V1688.40M1386.93,224.70V259.00M1386.93,1722.70V1688.40" stroke="#000" stroke-width="10.6" fill="none"/>
<g transform="translate(183.69,1744.79) scale(0.9350,1.0073)"><text font-family="Liberation Sans, Arial, sans-serif" font-size="78.0" font-weight="normal" letter-spacing="2.730" stroke="#000" stroke-width="0.80" stroke-linejoin="round">0.000</text></g>
<g transform="translate(183.69,1472.31) scale(0.9350,1.0073)"><text font-family="Liberation Sans, Arial, sans-serif" font-size="78.0" font-weight="normal" letter-spacing="2.730" stroke="#000" stroke-width="0.80" stroke-linejoin="round">0.005</text></g>
<g transform="translate(183.69,1199.83) scale(0.9350,1.0073)"><clipPath id="c1f3" clipPathUnits="userSpaceOnUse"><path clip-rule="evenodd" d="M-78.0,-156.0H936.0V78.0H-78.0Z M119.74,-6.94H135.89V2.34H119.74Z M143.38,-6.94H157.96V2.34H143.38Z "/></clipPath><text font-family="Liberation Sans, Arial, sans-serif" font-size="78.0" font-weight="normal" letter-spacing="2.730" clip-path="url(#c1f3)" stroke="#000" stroke-width="0.80" stroke-linejoin="round">0.010</text></g>
<g transform="translate(183.69,927.35) scale(0.9350,1.0073)"><clipPath id="c1f4" clipPathUnits="userSpaceOnUse"><path clip-rule="evenodd" d="M-78.0,-156.0H936.0V78.0H-78.0Z M119.74,-6.94H135.89V2.34H119.74Z M143.38,-6.94H157.96V2.34H143.38Z "/></clipPath><text font-family="Liberation Sans, Arial, sans-serif" font-size="78.0" font-weight="normal" letter-spacing="2.730" clip-path="url(#c1f4)" stroke="#000" stroke-width="0.80" stroke-linejoin="round">0.015</text></g>
<g transform="translate(183.69,655.88) scale(0.9350,1.0073)"><text font-family="Liberation Sans, Arial, sans-serif" font-size="78.0" font-weight="normal" letter-spacing="2.730" stroke="#000" stroke-width="0.80" stroke-linejoin="round">0.020</text></g>
<g transform="translate(183.69,383.40) scale(0.9350,1.0073)"><text font-family="Liberation Sans, Arial, sans-serif" font-size="78.0" font-weight="normal" letter-spacing="2.730" stroke="#000" stroke-width="0.80" stroke-linejoin="round">0.025</text></g>
<g transform="translate(589.89,1814.06) scale(0.9302,1.0364)"><clipPath id="c1f1" clipPathUnits="userSpaceOnUse"><path clip-rule="evenodd" d="M-78.0,-156.0H936.0V78.0H-78.0Z M3.12,-6.94H19.27V2.34H3.12Z M26.75,-6.94H41.34V2.34H26.75Z "/></clipPath><text font-family="Liberation Sans, Arial, sans-serif" font-size="78.0" font-weight="normal" letter-spacing="2.730" clip-path="url(#c1f1)" stroke="#000" stroke-width="0.80" stroke-linejoin="round">150</text></g>
<g transform="translate(1078.77,1814.07) scale(0.9333,1.0291)"><clipPath id="c1f2" clipPathUnits="userSpaceOnUse"><path clip-rule="evenodd" d="M-78.0,-156.0H936.0V78.0H-78.0Z M3.12,-6.94H19.27V2.34H3.12Z M26.75,-6.94H41.34V2.34H26.75Z "/></clipPath><text font-family="Liberation Sans, Arial, sans-serif" font-size="78.0" font-weight="normal" letter-spacing="2.730" clip-path="url(#c1f2)" stroke="#000" stroke-width="0.80" stroke-linejoin="round">175</text></g>
<g transform="translate(1566.05,1814.09) scale(0.9508,1.0107)"><text font-family="Liberation Sans, Arial, sans-serif" font-size="78.0" font-weight="normal" letter-spacing="2.730" stroke="#000" stroke-width="0.80" stroke-linejoin="round">200</text></g>
<g transform="translate(807.72,1943.03) scale(0.7787,0.7511)"><text font-family="Liberation Sans, Arial, sans-serif" font-size="100.0" font-weight="bold">Temperatures (°C)</text></g>
<g transform="translate(123.94,1437.82) scale(0.7745)"><text transform="rotate(-90)" font-family="Liberation Sans, Arial, sans-serif" font-size="100.0" font-weight="bold">Maximum power (W cm<tspan font-weight="normal" font-size="62.0" dy="-47.0">-2</tspan><tspan dy="47.0">)</tspan></text></g>
<g transform="translate(954.89,2083.59) scale(0.8037,0.8578)"><text font-family="Liberation Serif, Times New Roman, serif" font-size="100.0">(<tspan font-weight="bold">a</tspan>)</text></g>
<rect x="622.10" y="2157.30" width="1016.90" height="2.8" fill="#000"/>
<rect x="622.10" y="2265.3" width="1016.90" height="2.7" fill="#000"/>
<rect x="622.10" y="2157.30" width="2.6" height="110.70" fill="#000"/>
<rect x="1636.1" y="2160.1" width="5.9" height="107.9" fill="#8f8a94"/>
<rect x="635.50" y="2170.60" width="173.20" height="84.00" fill="url(#pbL0)" stroke="#000" stroke-width="4.8"/>
<rect x="977.40" y="2170.60" width="172.80" height="84.00" fill="url(#pbL1)" stroke="#000" stroke-width="4.8"/>
<rect x="1333.00" y="2170.60" width="173.10" height="84.00" fill="url(#pbL2)" stroke="#000" stroke-width="4.8"/>
<g transform="translate(829.25,2240.80) scale(1.0352,1.0089)"><text font-family="Liberation Sans, Arial, sans-serif" font-size="81.0" font-weight="normal">FA</text></g>
<g transform="translate(1171.54,2239.83) scale(1.0087,0.9741)"><text font-family="Liberation Sans, Arial, sans-serif" font-size="81.0" font-weight="normal">EG</text></g>
<g transform="translate(1526.21,2240.90) scale(0.9979,1.0089)"><text font-family="Liberation Sans, Arial, sans-serif" font-size="81.0" font-weight="normal">ET</text></g>
<rect x="449.16" y="3386.60" width="132.36" height="486.20" fill="url(#pbB00)" stroke="#000" stroke-width="2.6"/>
<rect x="581.52" y="3553.10" width="132.36" height="319.70" fill="url(#pbB01)" stroke="#000" stroke-width="5"/>
<rect x="713.88" y="3477.50" width="132.36" height="395.30" fill="url(#pbB02)" stroke="#000" stroke-width="5"/>
<rect x="945.46" y="3096.20" width="132.36" height="776.60" fill="url(#pbB10)" stroke="#000" stroke-width="2.6"/>
<rect x="1077.82" y="3357.30" width="132.36" height="515.50" fill="url(#pbB11)" stroke="#000" stroke-width="5"/>
<rect x="1210.18" y="3281.20" width="132.36" height="591.60" fill="url(#pbB12)" stroke="#000" stroke-width="5"/>
<rect x="1441.76" y="2808.80" width="132.36" height="1064.00" fill="url(#pbB20)" stroke="#000" stroke-width="2.6"/>
<rect x="1574.12" y="3160.30" width="132.36" height="712.50" fill="url(#pbB21)" stroke="#000" stroke-width="5"/>
<rect x="1706.48" y="3098.20" width="132.36" height="774.60" fill="url(#pbB22)" stroke="#000" stroke-width="5"/>
<rect x="399.50" y="2353.60" width="1489.00" height="1519.20" fill="none" stroke="#000" stroke-width="10.8"/>
<path d="M399.50,3568.96H433.90M1888.50,3568.96H1854.10M399.50,3265.12H433.90M1888.50,3265.12H1854.10M399.50,2961.28H433.90M1888.50,2961.28H1854.10M399.50,2657.44H433.90M1888.50,2657.44H1854.10M399.50,2353.60H433.90M1888.50,2353.60H1854.10M895.83,2353.60V2388.00M895.83,3872.80V3838.40M1392.17,2353.60V2388.00M1392.17,3872.80V3838.40" stroke="#000" stroke-width="10.8" fill="none"/>
<g transform="translate(171.35,3894.78) scale(0.9500,1.0236)"><text font-family="Liberation Sans, Arial, sans-serif" font-size="78.0" font-weight="normal" letter-spacing="2.730" stroke="#000" stroke-width="0.80" stroke-linejoin="round">0.000</text></g>
<g transform="translate(171.35,3591.96) scale(0.9500,1.0236)"><text font-family="Liberation Sans, Arial, sans-serif" font-size="78.0" font-weight="normal" letter-spacing="2.730" stroke="#000" stroke-width="0.80" stroke-linejoin="round">0.002</text></g>
<g transform="translate(170.40,3287.10) scale(0.9500,1.0236)"><text font-family="Liberation Sans, Arial, sans-serif" font-size="78.0" font-weight="normal" letter-spacing="2.730" stroke="#000" stroke-width="0.80" stroke-linejoin="round">0.004</text></g>
<g transform="translate(171.35,2983.26) scale(0.9500,1.0236)"><text font-family="Liberation Sans, Arial, sans-serif" font-size="78.0" font-weight="normal" letter-spacing="2.730" stroke="#000" stroke-width="0.80" stroke-linejoin="round">0.006</text></g>
<g transform="translate(171.35,2679.42) scale(0.9500,1.0236)"><text font-family="Liberation Sans, Arial, sans-serif" font-size="78.0" font-weight="normal" letter-spacing="2.730" stroke="#000" stroke-width="0.80" stroke-linejoin="round">0.008</text></g>
<g transform="translate(171.35,2375.58) scale(0.9500,1.0236)"><clipPath id="c1f7" clipPathUnits="userSpaceOnUse"><path clip-rule="evenodd" d="M-78.0,-156.0H936.0V78.0H-78.0Z M119.74,-6.94H135.89V2.34H119.74Z M143.38,-6.94H157.96V2.34H143.38Z "/></clipPath><text font-family="Liberation Sans, Arial, sans-serif" font-size="78.0" font-weight="normal" letter-spacing="2.730" clip-path="url(#c1f7)" stroke="#000" stroke-width="0.80" stroke-linejoin="round">0.010</text></g>
<g transform="translate(585.32,3963.87) scale(0.9405,1.0327)"><clipPath id="c1f5" clipPathUnits="userSpaceOnUse"><path clip-rule="evenodd" d="M-78.0,-156.0H936.0V78.0H-78.0Z M3.12,-6.94H19.27V2.34H3.12Z M26.75,-6.94H41.34V2.34H26.75Z "/></clipPath><text font-family="Liberation Sans, Arial, sans-serif" font-size="78.0" font-weight="normal" letter-spacing="2.730" clip-path="url(#c1f5)" stroke="#000" stroke-width="0.80" stroke-linejoin="round">150</text></g>
<g transform="translate(1079.07,3964.95) scale(0.9619,1.0455)"><clipPath id="c1f6" clipPathUnits="userSpaceOnUse"><path clip-rule="evenodd" d="M-78.0,-156.0H936.0V78.0H-78.0Z M3.12,-6.94H19.27V2.34H3.12Z M26.75,-6.94H41.34V2.34H26.75Z "/></clipPath><text font-family="Liberation Sans, Arial, sans-serif" font-size="78.0" font-weight="normal" letter-spacing="2.730" clip-path="url(#c1f6)" stroke="#000" stroke-width="0.80" stroke-linejoin="round">175</text></g>
<g transform="translate(1574.92,3965.67) scale(0.9592,1.0268)"><text font-family="Liberation Sans, Arial, sans-serif" font-size="78.0" font-weight="normal" letter-spacing="2.730" stroke="#000" stroke-width="0.80" stroke-linejoin="round">200</text></g>
<g transform="translate(805.01,4096.16) scale(0.7902,0.7543)"><text font-family="Liberation Sans, Arial, sans-serif" font-size="100.0" font-weight="bold">Temperatures (°C)</text></g>
<g transform="translate(111.43,3582.89) scale(0.7845)"><text transform="rotate(-90)" font-family="Liberation Sans, Arial, sans-serif" font-size="100.0" font-weight="bold">Maximum power (W cm<tspan font-weight="normal" font-size="62.0" dy="-47.0">-2</tspan><tspan dy="47.0">)</tspan></text></g>
<g transform="translate(949.50,4223.35) scale(0.8509,0.8644)"><text font-family="Liberation Serif, Times New Roman, serif" font-size="100.0">(<tspan font-weight="bold">b</tspan>)</text></g></svg></body></html>
